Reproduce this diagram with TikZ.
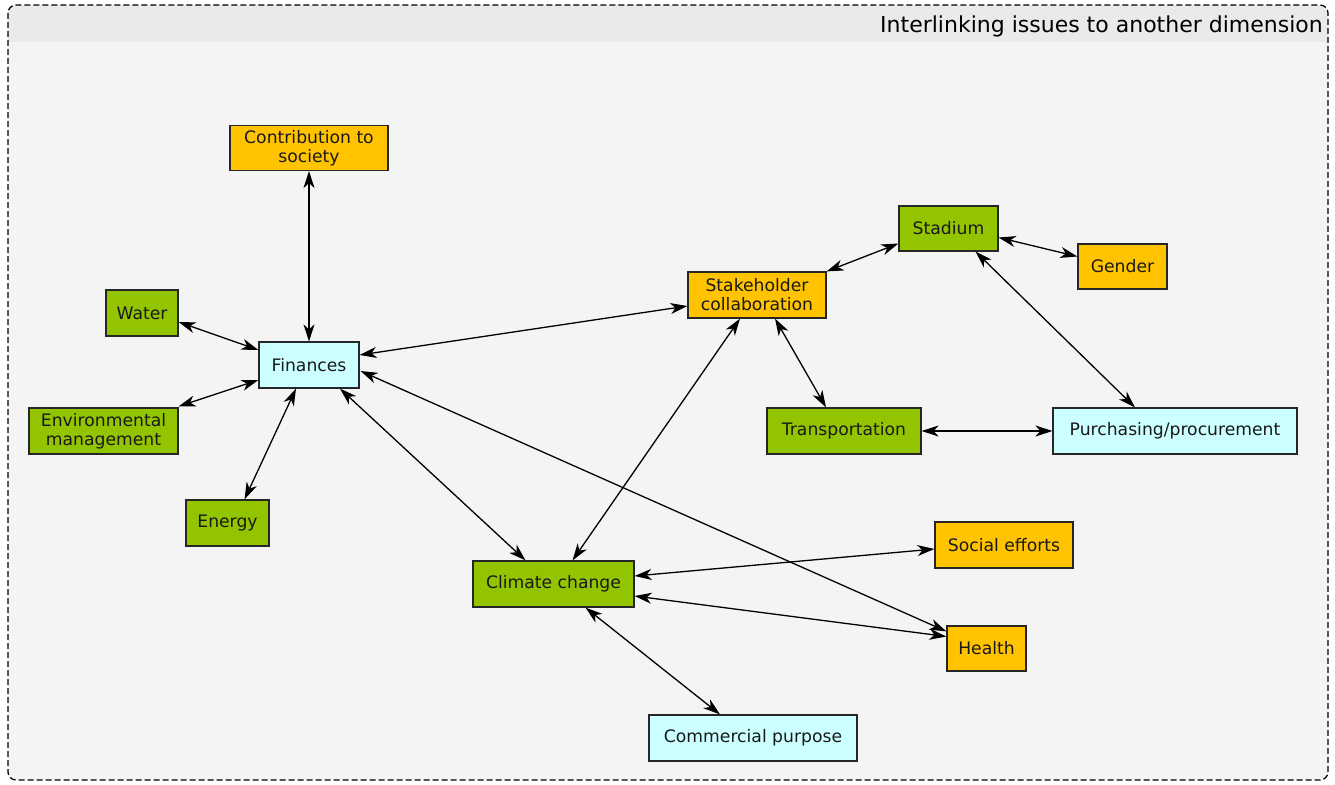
\documentclass[tikz,border=0pt]{standalone}
\usepackage{fontspec}
\setmainfont{DejaVu Sans}
\usetikzlibrary{arrows.meta,calc}
\definecolor{grn}{HTML}{92C500}
\definecolor{org}{HTML}{FFC300}
\definecolor{cyn}{HTML}{CCFFFF}
\definecolor{bgc}{HTML}{F4F4F4}
\definecolor{hdr}{HTML}{EAEAEA}
\tikzset{
  box/.style={draw=black!85, line width=1.2pt, inner sep=2pt, align=center, font=\fontsize{17.2}{19}\selectfont, text=black!90},
  gbox/.style={box, fill=grn},
  obox/.style={box, fill=org},
  cbox/.style={box, fill=cyn},
  link/.style={line width=1.3pt, {Stealth[length=17pt,width=11pt,inset=5pt]}-{Stealth[length=17pt,width=11pt,inset=5pt]}},
}
\begin{document}
\begin{tikzpicture}[x=1pt,y=-1pt]
\useasboundingbox (0,0) rectangle (1335,784);
\fill[white] (0,0) rectangle (1335,784);
\fill[bgc, rounded corners=8pt] (8,5) rectangle (1328,780);
\begin{scope}
\clip[rounded corners=8pt] (8,5) rectangle (1328,780);
\fill[hdr] (8,5) rectangle (1328,42);
\end{scope}
\draw[dash pattern=on 6pt off 3pt, line width=1.3pt, rounded corners=8pt] (8,5) rectangle (1328,780);
\node[anchor=east, font=\fontsize{22}{24}\selectfont, inner sep=0pt] (title) at (1323,26) {Interlinking issues to another dimension};

\node[obox, minimum width=158pt, minimum height=45pt] (con) at (309,148) {Contribution to\\society};
\node[gbox, minimum width=72pt, minimum height=46pt] (wat) at (142,313) {Water};
\node[cbox, minimum width=100pt, minimum height=46pt] (fin) at (309,365) {Finances};
\node[gbox, minimum width=149pt, minimum height=46pt] (env) at (103.5,431) {Environmental\\management};
\node[gbox, minimum width=83pt, minimum height=46pt] (eng) at (227.5,523) {Energy};
\node[obox, minimum width=138pt, minimum height=46pt] (stk) at (757,295) {Stakeholder\\collaboration};
\node[gbox, minimum width=99pt, minimum height=45pt] (sta) at (948.5,228.5) {Stadium};
\node[obox, minimum width=89pt, minimum height=45pt] (gen) at (1122.5,266.5) {Gender};
\node[gbox, minimum width=154pt, minimum height=46pt] (tra) at (844,431) {Transportation};
\node[cbox, minimum width=244pt, minimum height=46pt] (pur) at (1175,431) {Purchasing/procurement};
\node[obox, minimum width=138pt, minimum height=46pt] (soc) at (1004,545) {Social efforts};
\node[gbox, minimum width=161pt, minimum height=46pt] (cc) at (553.5,584) {Climate change};
\node[obox, minimum width=79pt, minimum height=45pt] (hea) at (986.5,648.5) {Health};
\node[cbox, minimum width=208pt, minimum height=46pt] (com) at (753,738) {Commercial purpose};

\draw[link] (con.south) -- (fin.north);
\draw[link] ($(wat.east)+(0,9)$) -- ($(fin.west)+(0,-15)$);
\draw[link] ($(env.north east)+(0,-1)$) -- ($(fin.west)+(0,15)$);
\draw[link] ($(eng.north)+(17,0)$) -- ($(fin.south)+(-13,0)$);
\draw[link] ($(fin.east)+(0,-10)$) -- ($(stk.west)+(0,11)$);
\draw[link] ($(fin.south)+(31,0)$) -- ($(cc.north)+(-28,0)$);
\draw[link] ($(fin.east)+(1,6)$) -- ($(hea.north west)+(0,6)$);
\draw[link] ($(cc.north)+(19,0)$) -- ($(stk.south)+(-17,0)$);
\draw[link] (stk.north east) -- ($(sta.west)+(0,15)$);
\draw[link] ($(sta.east)+(0,9)$) -- ($(gen.west)+(0,-10)$);
\draw[link] ($(sta.south)+(27,0)$) -- ($(pur.north)+(-40,0)$);
\draw[link] ($(stk.south)+(18,0)$) -- ($(tra.north)+(-18,0)$);
\draw[link] (tra.east) -- (pur.west);
\draw[link] ($(cc.east)+(0,-8)$) -- ($(soc.west)+(0,4)$);
\draw[link] ($(cc.east)+(0,12)$) -- ($(hea.west)+(0,-12)$);
\draw[link] ($(cc.south)+(32,0)$) -- ($(com.north)+(-33,0)$);
\end{tikzpicture}
\end{document}
